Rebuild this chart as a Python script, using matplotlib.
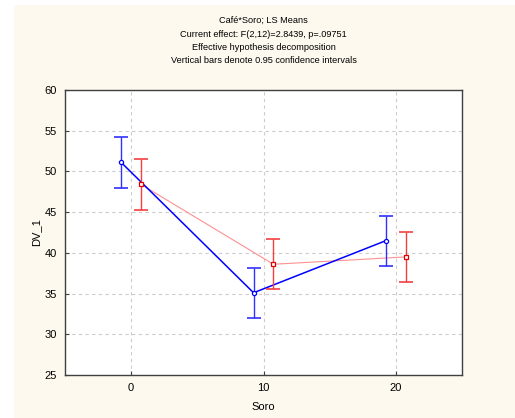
import matplotlib
matplotlib.use("Agg")
import matplotlib.pyplot as plt
from matplotlib.patches import Rectangle

# data
soro = [0, 10, 20]
blue_means = [51.1, 35.1, 41.5]
red_means = [48.4, 38.6, 39.5]
blue_ci = [3.08, 3.08, 3.08]
red_ci = [3.08, 3.08, 3.08]
x_ticks = [0, 10, 20]
y_ticks = [25, 30, 35, 40, 45, 50, 55, 60]
title_lines = [
    "Café*Soro; LS Means",
    "Current effect: F(2,12)=2.8439, p=.09751",
    "Effective hypothesis decomposition",
    "Vertical bars denote 0.95 confidence intervals",
]

plt.rcParams['font.family'] = ['Liberation Sans', 'DejaVu Sans']

W, H = 515, 418
fig = plt.figure(figsize=(W / 100, H / 100), dpi=100, facecolor='white')
bg = '#fdf9ee'
fig.patches.append(Rectangle((14 / W, 0), 1 - 14 / W, 1 - 5 / H,
                             transform=fig.transFigure, facecolor=bg,
                             edgecolor='none', zorder=-10))

ax = fig.add_axes([65 / W, 1 - 375 / H, 397 / W, 285 / H])
ax.set_facecolor('white')

off = 0.75
bx = [s - off for s in soro]
rx = [s + off for s in soro]

ax.plot(rx, red_means, color='#ff9090', lw=0.8, zorder=3)
ax.errorbar(rx, red_means, yerr=red_ci, fmt='none', ecolor='#f24040',
            elinewidth=1.0, capsize=5, capthick=1.2, zorder=4)
ax.plot(rx, red_means, ls='none', marker='s', ms=3.0, mfc='white',
        mec='#e00000', mew=0.9, zorder=5)

ax.plot(bx, blue_means, color='#0000ff', lw=1.1, zorder=3)
ax.errorbar(bx, blue_means, yerr=blue_ci, fmt='none', ecolor='#3030ff',
            elinewidth=1.0, capsize=5, capthick=1.2, zorder=4)
ax.plot(bx, blue_means, ls='none', marker='o', ms=3.0, mfc='white',
        mec='#0000ff', mew=0.9, zorder=5)

ax.set_xlim(-5, 25)
ax.set_ylim(25, 60)
ax.set_xticks(x_ticks)
ax.set_yticks(y_ticks)
ax.grid(True, ls=(0, (3, 3)), color='#cccccc', lw=0.8)
ax.set_axisbelow(True)
ax.tick_params(direction='in', length=3, labelsize=8, color='#404040', pad=6)
for sp in ax.spines.values():
    sp.set_color('#404040')
    sp.set_linewidth(1.0)

ax.set_xlabel('Soro', fontsize=8, labelpad=6)
ax.set_ylabel('DV_1', fontsize=8)
ax.yaxis.set_label_coords(-24 / 397, 0.5)

for i, line in enumerate(title_lines):
    fig.text(263.5 / W, 1 - (20.7 + 13.4 * i) / H, line, ha='center',
             va='center', fontsize=6.6)

fig.savefig('out.png', dpi=100, facecolor=fig.get_facecolor())
